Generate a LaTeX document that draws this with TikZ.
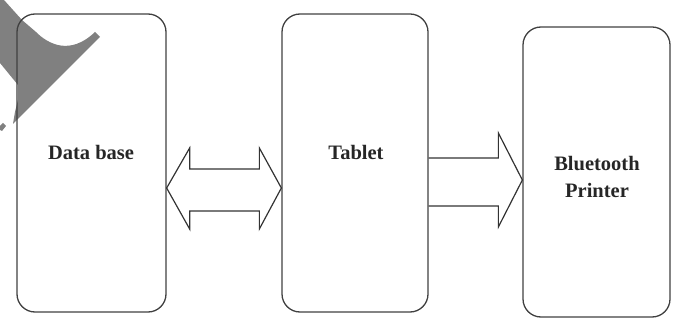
\documentclass[tikz,border=0pt]{standalone}
\usepackage{fontspec}
\setmainfont{Liberation Serif}
\usetikzlibrary{calc}
\tikzset{
  blockbox/.style={draw=black!75, line width=1.3pt, rounded corners=18pt, inner sep=0pt},
  lbl/.style={font=\fontsize{20.5}{27}\selectfont\bfseries, text=black!85, align=center, inner sep=0pt},
  blockarrow/.style={draw=black!80, line width=1.2pt, line join=miter},
}
\begin{document}
\begin{tikzpicture}[x=1pt,y=-1pt]
\useasboundingbox (0,0) rectangle (676,320);
% grey watermark fragment
\fill[black!50] (0,0) -- (4,0) -- (22,20) -- (36,32) .. controls (48,44) and (70,56) .. (95,32) -- (100,37) -- (13,124) -- (15,112) -- (18,100) -- (18,85) -- (0,63) -- cycle;
\fill[black!50] (0,126) -- (3,123) -- (6,126) -- (2,131) -- (0,130) -- cycle;
% boxes
\node[blockbox, minimum width=149pt, minimum height=298pt] (db) at (91.5,163) {};
\node[blockbox, minimum width=146pt, minimum height=298pt] (tab) at (355,163) {};
\node[blockbox, minimum width=147pt, minimum height=290pt] (prn) at (596.5,172) {};
% labels
\node[lbl] (dbt) at (91,152) {Data base};
\node[lbl] (tabt) at (356,152) {Tablet};
\node[lbl] (prnt) at (597,177) {Bluetooth\\Printer};
% double block arrow between db and tab
\coordinate (a1l) at (db.east |- 0,188);
\coordinate (a1r) at (tab.west |- 0,188);
\draw[blockarrow] (a1l) -- ($(a1l)+(23,-40)$) -- ($(a1l)+(23,-19)$) -- ($(a1r)+(-22,-19)$) -- ($(a1r)+(-22,-40)$) -- (a1r)
  -- ($(a1r)+(-22,41)$) -- ($(a1r)+(-22,23)$) -- ($(a1l)+(23,23)$) -- ($(a1l)+(23,41)$) -- cycle;
% single block arrow from tab to prn
\coordinate (a2s) at (tab.east |- 0,180);
\coordinate (a2t) at (prn.west |- 0,180);
\draw[blockarrow] ($(a2s)+(0,-22)$) -- ($(a2t)+(-24,-22)$) -- ($(a2t)+(-24,-47)$) -- (a2t)
  -- ($(a2t)+(-24,47)$) -- ($(a2t)+(-24,26)$) -- ($(a2s)+(0,26)$);
\end{tikzpicture}
\end{document}
